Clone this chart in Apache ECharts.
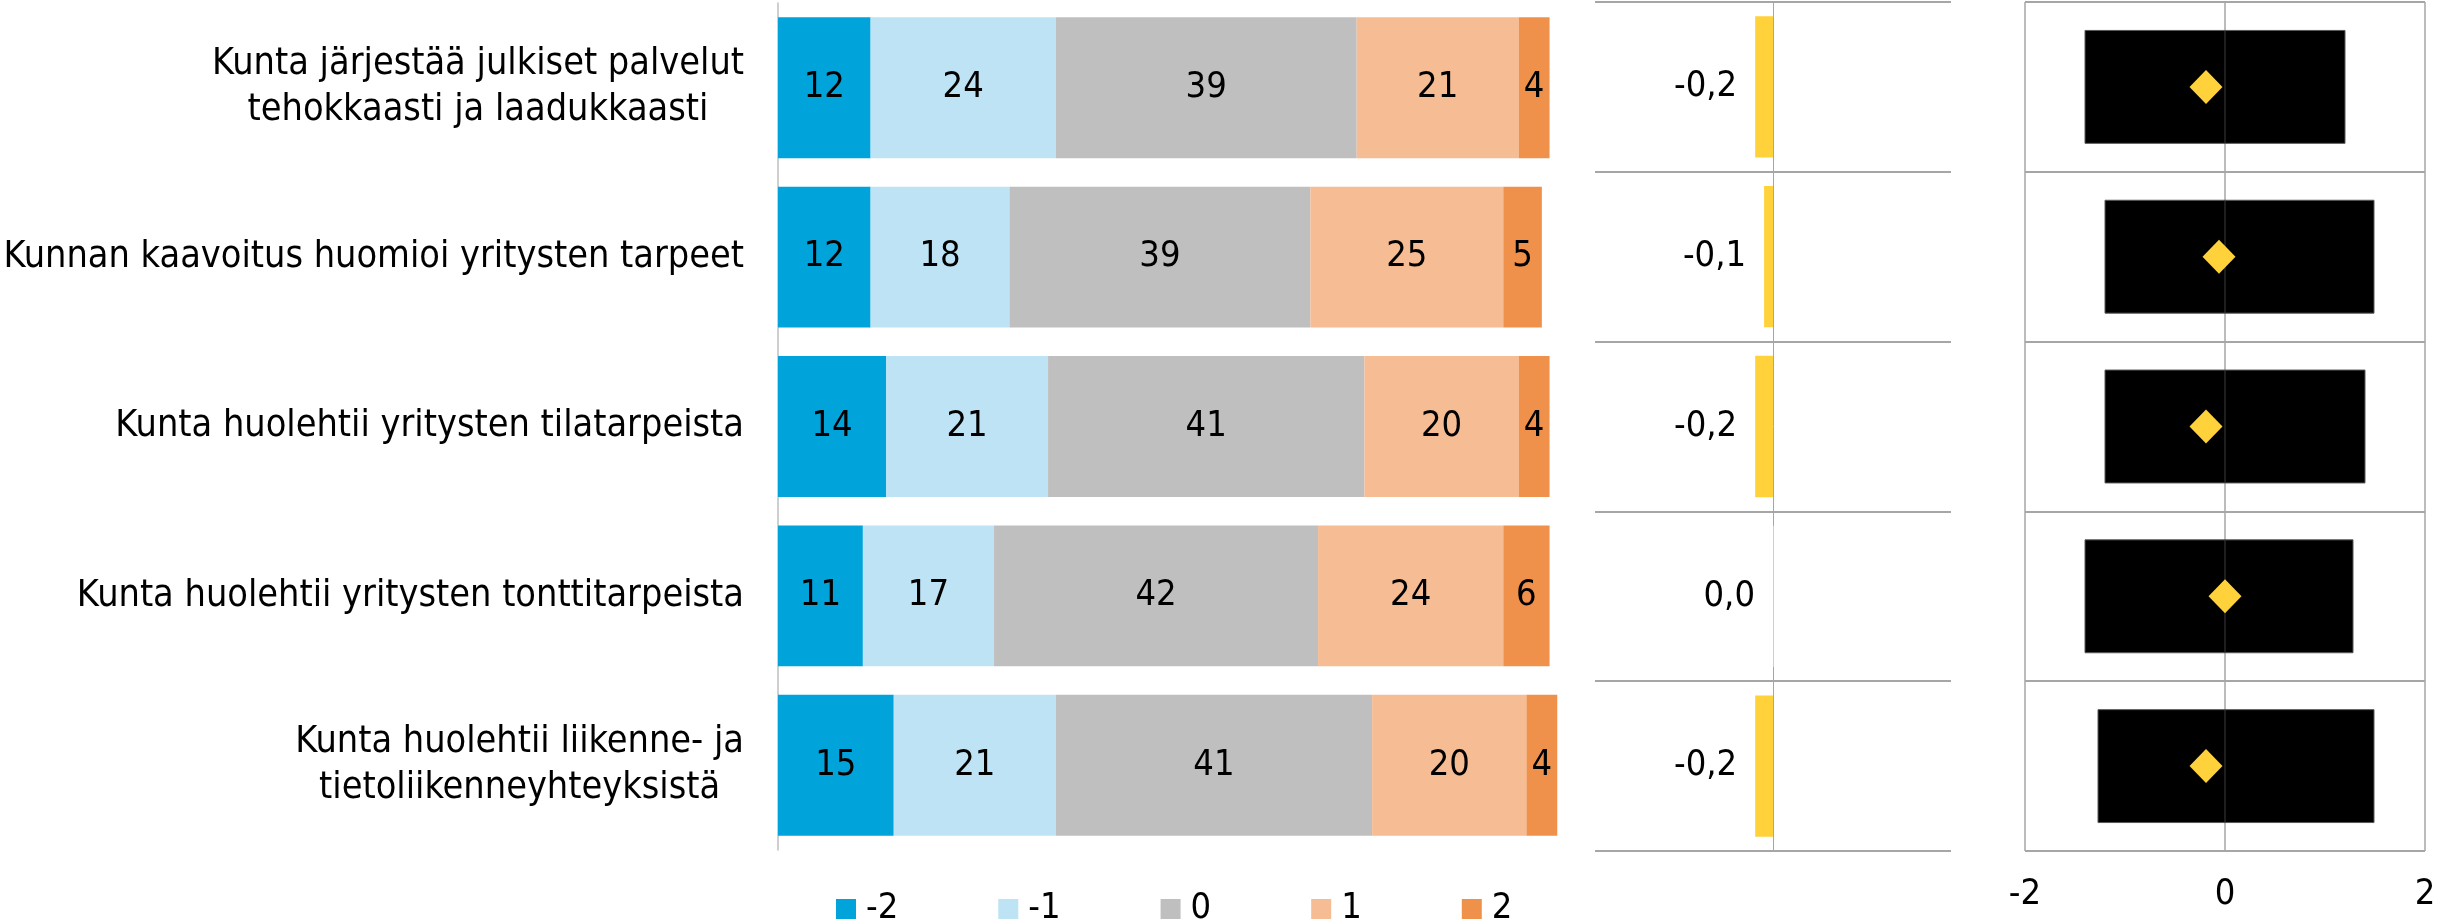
<!DOCTYPE html>
<html>
<head>
<meta charset="utf-8">
<script src="https://cdn.jsdelivr.net/npm/echarts@6/dist/echarts.min.js"></script>
<style>
  html, body { margin: 0; padding: 0; background: #fff; }
  #chart { width: 2448px; height: 922px; }
</style>
</head>
<body>
<div id="chart"></div>
<script>
// Statements (one row per statement)
const categories = [
  'Kunta järjestää julkiset palvelut\ntehokkaasti ja laadukkaasti',
  'Kunnan kaavoitus huomioi yritysten tarpeet',
  'Kunta huolehtii yritysten tilatarpeista',
  'Kunta huolehtii yritysten tonttitarpeista',
  'Kunta huolehtii liikenne- ja\ntietoliikenneyhteyksistä'
];

// Answer distribution (%) on the scale -2 ... 2
const scaleNames = ['-2', '-1', '0', '1', '2'];
const shareMinus2 = [12, 12, 14, 11, 15];
const shareMinus1 = [24, 18, 21, 17, 21];
const shareZero   = [39, 39, 41, 42, 41];
const sharePlus1  = [21, 25, 20, 24, 20];
const sharePlus2  = [4, 5, 4, 6, 4];

// Mean score per statement
const meanScore = [-0.2, -0.1, -0.2, 0.0, -0.2];

// Range boxes (low, high) and mean markers for the right-hand panel
const rangeLow  = [-1.40, -1.20, -1.20, -1.40, -1.27];
const rangeHigh = [1.20, 1.49, 1.40, 1.28, 1.49];
const markerMean = [-0.19, -0.06, -0.19, 0.0, -0.19];

// Axis tick values of the right-hand panel
const rangeAxisMin = -2;
const rangeAxisMax = 2;
const rangeAxisStep = 2;

const FONT = "'DejaVu Sans Condensed', 'DejaVu Sans', sans-serif";
const GRID_GRAY = '#a6a6a6';
const YELLOW = '#ffd13b';
const scaleColors = ['#00a3da', '#bde3f5', '#bfbfbf', '#f6bc93', '#f0914b'];
const shares = [shareMinus2, shareMinus1, shareZero, sharePlus1, sharePlus2];

const chart = echarts.init(document.getElementById('chart'), null, { renderer: 'canvas' });

const stackSeries = scaleNames.map((name, i) => ({
  name: name,
  type: 'bar',
  stack: 'share',
  xAxisIndex: 0,
  yAxisIndex: 0,
  barCategoryGap: '16.8%',
  itemStyle: { color: scaleColors[i] },
  label: {
    show: true,
    position: 'inside',
    color: '#000',
    fontFamily: FONT,
    fontSize: 36
  },
  emphasis: { disabled: true },
  data: shares[i]
}));

const option = {
  animation: false,
  backgroundColor: '#fff',
  textStyle: { fontFamily: FONT },
  legend: {
    data: scaleNames,
    left: 831,
    top: 886,
    itemWidth: 20,
    itemHeight: 20,
    itemGap: 100,
    icon: 'rect',
    textStyle: {
      fontFamily: FONT,
      fontSize: 36,
      color: '#000',
      lineHeight: 36,
      padding: [0, 0, 0, 5]
    }
  },
  grid: [
    { left: 778, top: 3, width: 787, height: 847 },
    { left: 1595, top: 2, width: 356, height: 849 },
    { left: 2025, top: 2, width: 400, height: 849 }
  ],
  xAxis: [
    { gridIndex: 0, type: 'value', min: 0, max: 102, show: false },
    {
      gridIndex: 1, type: 'value', min: -2, max: 2,
      axisLine: { show: false }, axisTick: { show: false },
      axisLabel: { show: false }, splitLine: { show: false }
    },
    {
      gridIndex: 2, type: 'value',
      min: rangeAxisMin, max: rangeAxisMax, interval: rangeAxisStep,
      axisLine: { show: false }, axisTick: { show: false },
      axisLabel: {
        fontFamily: FONT, fontSize: 36, color: '#000', margin: 26
      },
      splitLine: { show: true, lineStyle: { color: GRID_GRAY, width: 1.5 } }
    }
  ],
  yAxis: [
    {
      gridIndex: 0, type: 'category', inverse: true, data: categories,
      axisLine: { show: true, lineStyle: { color: '#bfbfbf', width: 1.5 } },
      axisTick: { show: false },
      axisLabel: {
        margin: 34,
        align: 'right',
        fontFamily: FONT,
        fontSize: 37.5,
        color: '#000',
        lineHeight: 46,
        formatter: (v) => v.split('\n').map(l => '{c|' + l + '}').join('\n'),
        rich: {
          c: { align: 'center', fontFamily: FONT, fontSize: 37.5, lineHeight: 46, color: '#000' }
        }
      }
    },
    {
      gridIndex: 1, type: 'category', inverse: true, data: categories,
      axisLine: { show: true, onZero: true, lineStyle: { color: GRID_GRAY, width: 1 } },
      axisTick: { show: false },
      axisLabel: { show: false },
      splitLine: { show: true, lineStyle: { color: GRID_GRAY, width: 2 } }
    },
    {
      gridIndex: 2, type: 'category', inverse: true, data: categories,
      axisLine: { show: false },
      axisTick: { show: false },
      axisLabel: { show: false },
      splitLine: { show: true, lineStyle: { color: GRID_GRAY, width: 2 } }
    }
  ],
  series: [
    ...stackSeries,
    {
      name: 'keskiarvo',
      type: 'bar',
      xAxisIndex: 1,
      yAxisIndex: 1,
      barCategoryGap: '16.8%',
      barMinHeight: 1,
      itemStyle: { color: YELLOW },
      label: {
        show: true,
        position: 'left',
        distance: 18,
        color: '#000',
        fontFamily: FONT,
        fontSize: 36,
        formatter: (p) => p.value.toFixed(1).replace('.', ',')
      },
      emphasis: { disabled: true },
      data: meanScore
    },
    {
      name: 'vaihteluväli',
      type: 'custom',
      xAxisIndex: 2,
      yAxisIndex: 2,
      encode: { x: [0, 1], y: 2 },
      data: rangeLow.map((lo, i) => [lo, rangeHigh[i], i]),
      renderItem: (params, api) => {
        const idx = api.value(2);
        const a = api.coord([api.value(0), idx]);
        const b = api.coord([api.value(1), idx]);
        const zero = api.coord([0, idx]);
        const h = api.size([0, 1])[1] * 0.665;
        return {
          type: 'group',
          children: [
            {
              type: 'rect',
              shape: { x: a[0], y: a[1] - h / 2, width: b[0] - a[0], height: h },
              style: { fill: '#000', stroke: '#595959', lineWidth: 1 }
            },
            {
              type: 'line',
              shape: { x1: zero[0], y1: a[1] - h / 2, x2: zero[0], y2: a[1] + h / 2 },
              style: { stroke: '#3c3c3c', lineWidth: 1 }
            }
          ]
        };
      },
      z: 2
    },
    {
      name: 'keskiarvo (piste)',
      type: 'scatter',
      xAxisIndex: 2,
      yAxisIndex: 2,
      symbol: 'diamond',
      symbolSize: [33, 34],
      itemStyle: { color: YELLOW, opacity: 1 },
      emphasis: { disabled: true },
      data: markerMean.map((m, i) => [m, i]),
      z: 3
    }
  ]
};

chart.setOption(option);
</script>
</body>
</html>
